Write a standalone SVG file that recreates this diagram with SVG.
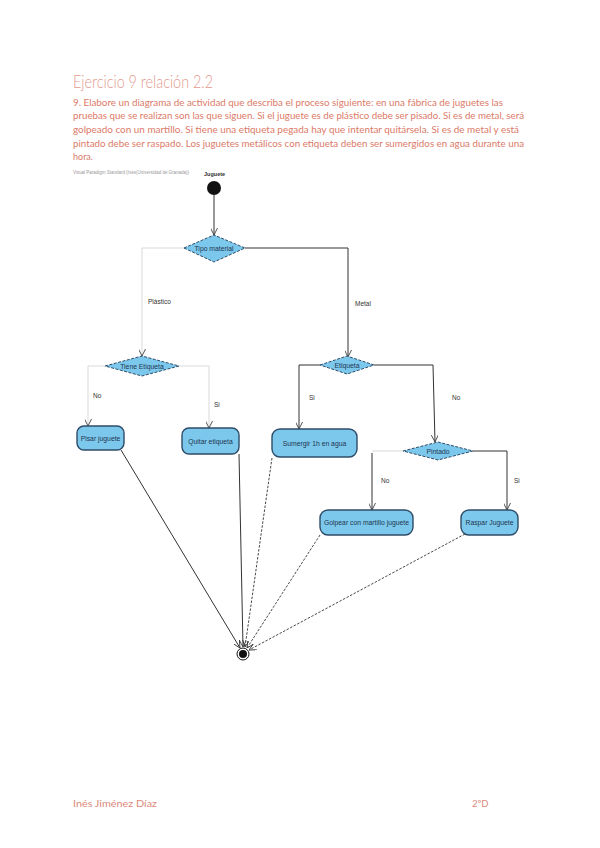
<svg xmlns="http://www.w3.org/2000/svg" width="600" height="848" viewBox="0 0 600 848">
<style>
.title{font-family:Lato,"Open Sans",sans-serif;font-weight:300;font-size:18px;fill:#e39a8e}
.para{font-family:Lato,"Open Sans",sans-serif;font-size:9.6px;fill:#dc7a68}
.foot{font-family:Lato,"Open Sans",sans-serif;font-size:9.5px;fill:#dc8a7c}
.wm{font-family:"Liberation Sans",sans-serif;font-size:4.6px;fill:#999}
.lbl{font-family:"Liberation Sans",sans-serif;font-size:6.5px;fill:#333}
.nt{font-family:"Liberation Sans",sans-serif;font-size:6.8px;fill:#1f3550;text-anchor:middle}
.dia{fill:#7cc8ec;stroke:#2e4c68;stroke-width:1;stroke-dasharray:3,1.5}
.act{fill:#7cc8ec;stroke:#2e4c68;stroke-width:1.4}
.c{fill:none;stroke:#333;stroke-width:1}
.cf{fill:none;stroke:#cfcfcf;stroke-width:0.8}
.cd{fill:none;stroke:#333;stroke-width:0.9;stroke-dasharray:2.5,1.5}
</style>
<defs>
<marker id="ar" viewBox="0 0 10 10" refX="10" refY="5" markerWidth="7" markerHeight="7" orient="auto" markerUnits="userSpaceOnUse">
<path d="M0,0 L10,5 L0,10" fill="none" stroke="#333" stroke-width="1.2"/>
</marker>
</defs>
<rect width="600" height="848" fill="#fff"/>
<text class="title" x="73" y="88" textLength="140" lengthAdjust="spacingAndGlyphs">Ejercicio 9 relación 2.2</text>
<text class="para" x="73" y="106" textLength="430" lengthAdjust="spacingAndGlyphs">9. Elabore un diagrama de actividad que describa el proceso siguiente: en una fábrica de juguetes las</text>
<text class="para" x="73" y="119" textLength="451" lengthAdjust="spacingAndGlyphs">pruebas que se realizan son las que siguen. Si el juguete es de plástico debe ser pisado. Si es de metal, será</text>
<text class="para" x="73" y="133" textLength="446" lengthAdjust="spacingAndGlyphs">golpeado con un martillo. Si tiene una etiqueta pegada hay que intentar quitársela. Si es de metal y está</text>
<text class="para" x="73" y="147" textLength="451" lengthAdjust="spacingAndGlyphs">pintado debe ser raspado. Los juguetes metálicos con etiqueta deben ser sumergidos en agua durante una</text>
<text class="para" x="73" y="160" textLength="20" lengthAdjust="spacingAndGlyphs">hora.</text>
<text class="wm" x="73" y="174" textLength="116" lengthAdjust="spacingAndGlyphs">Visual Paradigm Standard (Inés(Universidad de Granada))</text>

<g id="connectors">
<line class="c" x1="214" y1="195" x2="214" y2="235" marker-end="url(#ar)"/>
<polyline class="c" points="245,248 348,248 348,357" marker-end="url(#ar)"/>
<polyline class="cf" points="184,248 142,248 142,356" marker-end="url(#ar)"/>
<polyline class="cf" points="105,366 88,366 88,426" marker-end="url(#ar)"/>
<polyline class="cf" points="179,366 209,366 209,428" marker-end="url(#ar)"/>
<polyline class="c" points="320,365 299,365 299,429" marker-end="url(#ar)"/>
<polyline class="c" points="374,365 433,365 435,442" marker-end="url(#ar)"/>
<polyline class="cf" points="403,451 372,451"/>
<line class="c" x1="372" y1="453" x2="372" y2="510" marker-end="url(#ar)"/>
<polyline class="c" points="473,451 507,451 507,510" marker-end="url(#ar)"/>
<line class="c" x1="121" y1="450" x2="240" y2="648" marker-end="url(#ar)"/>
<line class="c" x1="239" y1="454" x2="243" y2="647" marker-end="url(#ar)"/>
<line class="cd" x1="272" y1="458" x2="245" y2="647" marker-end="url(#ar)"/>
<line class="cd" x1="320" y1="535" x2="247" y2="648" marker-end="url(#ar)"/>
<line class="cd" x1="465" y1="534" x2="249" y2="650" marker-end="url(#ar)"/>
<text class="lbl" x="148" y="304">Plástico</text>
<text class="lbl" x="355" y="306">Metal</text>
<text class="lbl" x="93" y="398">No</text>
<text class="lbl" x="214" y="407">Si</text>
<text class="lbl" x="309" y="400">Si</text>
<text class="lbl" x="452" y="400">No</text>
<text class="lbl" x="381" y="483">No</text>
<text class="lbl" x="514" y="483">Si</text>
</g>

<g id="start">
<text class="lbl" x="204" y="176" style="font-weight:bold;font-size:5.5px">Juguete</text>
<circle cx="214" cy="188" r="7" fill="#111"/>
</g>
<g id="tipo-material">
<polygon class="dia" points="184,248 214,235 245,248 214,262"/>
<text class="nt" x="214" y="250.5">Tipo material</text>
</g>
<g id="tiene-etiqueta">
<polygon class="dia" points="105,366 142,356 179,366 142,376"/>
<text class="nt" x="142" y="368.5">Tiene Etiqueta</text>
</g>
<g id="etiqueta">
<polygon class="dia" points="320,365 347,356 374,365 347,374"/>
<text class="nt" x="347" y="367.5">Etiqueta</text>
</g>
<g id="pintado">
<polygon class="dia" points="403,451 438,442 473,451 438,460"/>
<text class="nt" x="438" y="453.5">Pintado</text>
</g>
<g id="pisar">
<rect class="act" x="77" y="426" width="47" height="24" rx="7"/>
<text class="nt" x="100.5" y="440.5">Pisar juguete</text>
</g>
<g id="quitar">
<rect class="act" x="182" y="428" width="57" height="26" rx="7"/>
<text class="nt" x="210.5" y="443.5">Quitar etiqueta</text>
</g>
<g id="sumergir">
<rect class="act" x="272" y="429" width="85" height="28" rx="8"/>
<text class="nt" x="314.5" y="445.5">Sumergir 1h en agua</text>
</g>
<g id="golpear">
<rect class="act" x="320" y="510" width="93" height="25" rx="8"/>
<text class="nt" x="366.5" y="525">Golpear con martillo juguete</text>
</g>
<g id="raspar">
<rect class="act" x="461" y="510" width="57" height="25" rx="8"/>
<text class="nt" x="489.5" y="525">Raspar Juguete</text>
</g>
<g id="end">
<circle cx="243" cy="654" r="6" fill="#fff" stroke="#111" stroke-width="1"/>
<circle cx="243" cy="654" r="4" fill="#111"/>
</g>

<text class="foot" x="73" y="807" textLength="84" lengthAdjust="spacingAndGlyphs">Inés Jiménez Díaz</text>
<text class="foot" x="472" y="807">2ºD</text>
</svg>
